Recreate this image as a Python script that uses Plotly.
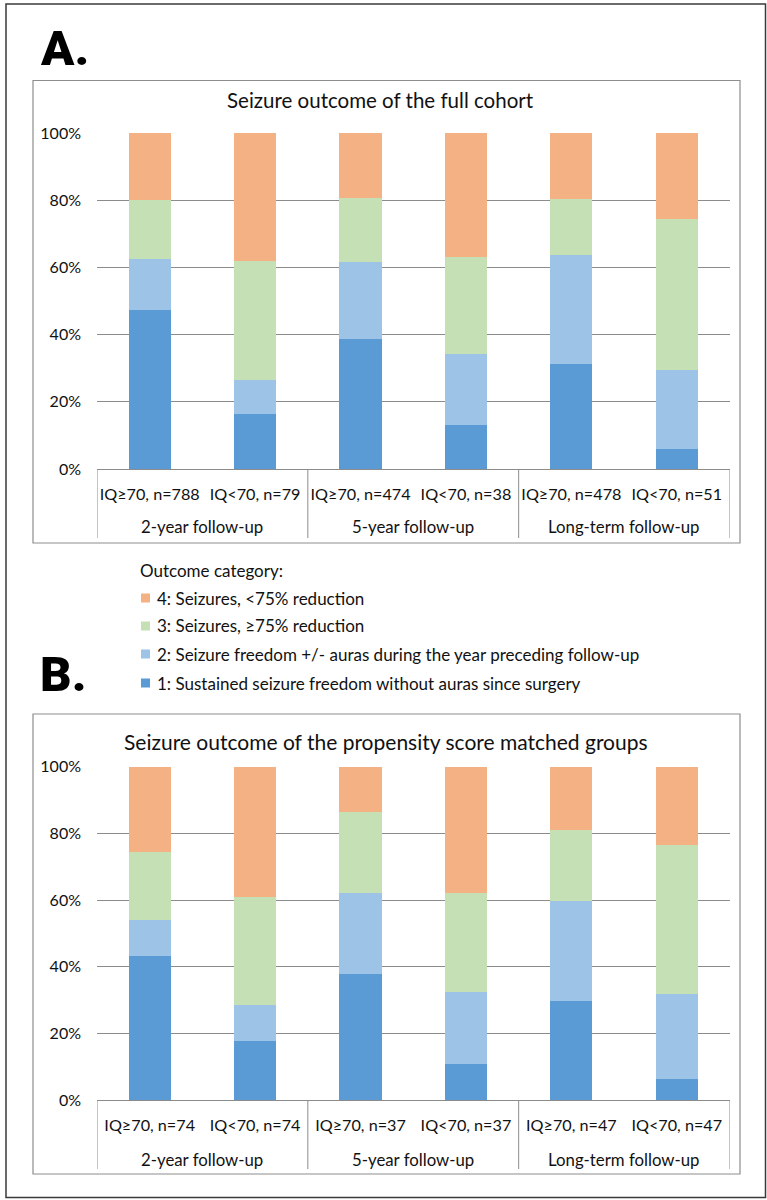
import plotly.graph_objects as go

# ---- data -----------------------------------------------------------------
group_labels = ["2-year follow-up", "5-year follow-up", "Long-term follow-up"]
full_labels = ["IQ≥70, n=788", "IQ<70, n=79", "IQ≥70, n=474",
               "IQ<70, n=38", "IQ≥70, n=478", "IQ<70, n=51"]
matched_labels = ["IQ≥70, n=74", "IQ<70, n=74", "IQ≥70, n=37",
                  "IQ<70, n=37", "IQ≥70, n=47", "IQ<70, n=47"]

outcome_names = [
    "1: Sustained seizure freedom without auras since surgery",
    "2: Seizure freedom +/- auras during the year preceding follow-up",
    "3: Seizures, ≥75% reduction",
    "4: Seizures, <75% reduction",
]
outcome_colors = ["#5B9BD5", "#9DC3E6", "#C5E0B4", "#F4B183"]

# percentages per outcome category, full cohort
full_cat1 = [47.3, 16.5, 38.6, 13.2, 31.3, 5.9]
full_cat2 = [15.1, 10.1, 23.0, 21.0, 32.5, 23.5]
full_cat3 = [17.6, 35.4, 19.1, 29.0, 16.6, 45.1]
full_cat4 = [20.0, 38.0, 19.3, 36.8, 19.6, 25.5]

# percentages per outcome category, propensity score matched groups
matched_cat1 = [43.2, 17.6, 37.8, 10.8, 29.8, 6.4]
matched_cat2 = [10.8, 10.8, 24.3, 21.6, 29.8, 25.5]
matched_cat3 = [20.3, 32.4, 24.3, 29.7, 21.3, 44.7]
matched_cat4 = [25.7, 39.2, 13.6, 37.9, 19.1, 23.4]

y_ticks = [0, 20, 40, 60, 80, 100]

# ---- geometry helpers (pixel -> paper) -----------------------------------
W, H = 767, 1200
def px(x):
    return x / W
def py(y):
    return 1 - y / H

FONT = "Lato, 'Noto Sans', sans-serif"
TXT = "#111111"
GRID = "#8C8C8C"

fig = go.Figure()
xs = list(range(6))

panels = [
    ("x", "y", [full_cat1, full_cat2, full_cat3, full_cat4]),
    ("x2", "y2", [matched_cat1, matched_cat2, matched_cat3, matched_cat4]),
]
for xa, ya, series in panels:
    for name, color, vals in zip(outcome_names, outcome_colors, series):
        fig.add_trace(go.Bar(
            x=xs, y=vals, name=name, xaxis=xa, yaxis=ya,
            width=0.4, marker=dict(color=color, line=dict(width=0)),
            showlegend=False,
        ))

frames = [
    dict(box=(80.5, 543), title="Seizure outcome of the full cohort", ty=100, tx=380,
         tsize=20.5, top=133, zero=469, tab=538, r2=526, letter="A.", ly=48,
         xa="x", ya="y"),
    dict(box=(714, 1174), title="Seizure outcome of the propensity score matched groups",
         ty=741, tx=386, tsize=21, top=766.7, zero=1100, tab=1169, r2=1159,
         letter="B.", ly=674, xa="x2", ya="y2"),
]

shapes = []
annotations = []

# outer border around the whole figure
shapes.append(dict(type="rect", xref="paper", yref="paper",
                   x0=px(6), x1=px(765.5), y0=py(1197.5), y1=py(4),
                   line=dict(color="#3A3A3A", width=1.5)))

layout_axes = {}
for i, f in enumerate(frames):
    xkey = "xaxis" if i == 0 else "xaxis2"
    ykey = "yaxis" if i == 0 else "yaxis2"
    labels = full_labels if i == 0 else matched_labels
    layout_axes[xkey] = dict(
        domain=[px(97), px(729.5)], range=[-0.5, 5.5],
        tickvals=xs, ticktext=labels, ticks="", ticklabelstandoff=11,
        tickfont=dict(family=FONT, size=16.2, color=TXT),
        showgrid=False, zeroline=False, showline=True, linecolor=GRID,
        linewidth=1, anchor=f["ya"], fixedrange=True, automargin=False,
    )
    layout_axes[ykey] = dict(
        domain=[py(f["zero"]), py(f["top"])], range=[0, 100],
        tickvals=y_ticks, ticktext=[f"{v}%" for v in y_ticks], ticks="",
        ticklabelstandoff=15,
        tickfont=dict(family=FONT, size=16, color=TXT),
        showgrid=True, gridcolor=GRID, gridwidth=1, zeroline=False,
        showline=False, anchor=f["xa"], fixedrange=True, automargin=False,
    )
    # chart box
    shapes.append(dict(type="rect", xref="paper", yref="paper",
                       x0=px(33), x1=px(740), y0=py(f["box"][1]), y1=py(f["box"][0]),
                       line=dict(color="#8E8E8E", width=1.2)))
    # category table dividers
    for xv in [-0.5, 1.5, 3.5, 5.5]:
        shapes.append(dict(type="line", xref=f["xa"], yref="paper",
                           x0=xv, x1=xv, y0=py(f["tab"]), y1=py(f["zero"]),
                           line=dict(color=GRID, width=1)))
    # group labels
    for gx, g in zip([0.5, 2.5, 4.5], group_labels):
        annotations.append(dict(xref=f["xa"], yref="paper", x=gx, y=py(f["r2"]),
                                text=g, showarrow=False, xanchor="center",
                                yanchor="middle",
                                font=dict(family=FONT, size=16.8, color=TXT)))
    # chart title
    annotations.append(dict(xref="paper", yref="paper", x=px(f["tx"]), y=py(f["ty"]),
                            text=f["title"], showarrow=False, xanchor="center",
                            yanchor="middle",
                            font=dict(family=FONT, size=f["tsize"], color=TXT)))
    # panel letter
    annotations.append(dict(xref="paper", yref="paper", x=px(38), y=py(f["ly"]),
                            text=f"<b>{f['letter']}</b>", showarrow=False,
                            xanchor="left", yanchor="middle",
                            font=dict(family="'Roboto Black', 'Lato Black', 'DejaVu Sans', sans-serif",
                                      size=49, color="#000000", weight=900)))

# shared outcome key between the two panels
annotations.append(dict(xref="paper", yref="paper", x=px(138), y=py(570),
                        text="Outcome category:", showarrow=False, xanchor="left",
                        yanchor="middle", font=dict(family=FONT, size=17, color=TXT)))
key_rows = [598, 626, 654, 683]
for yk, name, color in zip(key_rows, outcome_names[::-1], outcome_colors[::-1]):
    shapes.append(dict(type="rect", xref="paper", yref="paper",
                       x0=px(141), x1=px(150), y0=py(yk + 4.5), y1=py(yk - 4.5),
                       fillcolor=color, line=dict(width=0)))
    annotations.append(dict(xref="paper", yref="paper", x=px(155), y=py(yk),
                            text=name, showarrow=False, xanchor="left",
                            yanchor="middle",
                            font=dict(family=FONT, size=17, color=TXT)))

fig.update_layout(
    template="none",
    width=W, height=H, margin=dict(l=0, r=0, t=0, b=0, pad=0),
    paper_bgcolor="white", plot_bgcolor="white",
    barmode="stack", showlegend=False,
    shapes=shapes, annotations=annotations,
    **layout_axes,
)

fig.write_html("out.html")
